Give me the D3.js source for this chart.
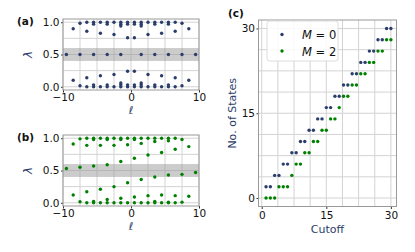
<!DOCTYPE html>
<html>
<head>
<meta charset="utf-8">
<script src="https://cdn.jsdelivr.net/npm/d3@7"></script>
<style>
  body { margin: 0; background: #fff; }
  svg { display: block; font-family: "DejaVu Sans", sans-serif; }
</style>
</head>
<body>
<div id="chart"></div>
<script>
// angular momentum sectors
var ell = [-9.5, -8.5, -7.5, -6.5, -5.5, -4.5, -3.5, -2.5, -1.5, -0.5,
           0.5, 1.5, 2.5, 3.5, 4.5, 5.5, 6.5, 7.5, 8.5, 9.5];

// entanglement eigenvalues per sector, M = 0
var lambdaM0 = [
  [0.5],
  [0.90, 0.10],
  [0.985, 0.5, 0.015],
  [1.0, 0.86, 0.14, 0.0],
  [1.0, 0.97, 0.5, 0.03, 0.0],
  [1.0, 0.83, 0.17, 0.0],
  [1.0, 0.97, 0.5, 0.03, 0.0],
  [1.0, 0.81, 0.19, 0.0],
  [1.0, 0.97, 0.94, 0.5, 0.06, 0.03, 0.0],
  [1.0, 0.97, 0.76, 0.24, 0.03, 0.0],
  [1.0, 0.97, 0.76, 0.24, 0.03, 0.0],
  [1.0, 0.97, 0.94, 0.5, 0.06, 0.03, 0.0],
  [1.0, 0.81, 0.19, 0.0],
  [1.0, 0.97, 0.5, 0.03, 0.0],
  [1.0, 0.83, 0.17, 0.0],
  [1.0, 0.97, 0.5, 0.03, 0.0],
  [1.0, 0.86, 0.14, 0.0],
  [0.985, 0.5, 0.015],
  [0.90, 0.10],
  [0.5]
];

// M = 2
var lambdaM2 = [
  [0.53],
  [0.91, 0.12],
  [0.99, 0.55, 0.015],
  [1.0, 0.89, 0.17, 0.0],
  [1.0, 0.98, 0.57, 0.02, 0.0],
  [1.0, 0.89, 0.21, 0.0],
  [1.0, 0.98, 0.59, 0.05, 0.0],
  [1.0, 0.89, 0.25, 0.0],
  [1.0, 0.98, 0.64, 0.07, 0.0],
  [1.0, 0.90, 0.31, 0.0],
  [1.0, 0.98, 0.69, 0.09, 0.0],
  [1.0, 0.92, 0.36, 0.0],
  [1.0, 0.74, 0.11, 0.0],
  [1.0, 0.95, 0.40, 0.02, 0.0],
  [1.0, 0.78, 0.12, 0.0],
  [1.0, 0.96, 0.43, 0.01, 0.0],
  [1.0, 0.83, 0.11, 0.0],
  [0.98, 0.44, 0.01],
  [0.87, 0.10],
  [0.47]
];

var cutoff = [1, 2, 3, 4, 5, 6, 7, 8, 9, 10, 11, 12, 13, 14, 15,
              16, 17, 18, 19, 20, 21, 22, 23, 24, 25, 26, 27, 28, 29, 30];
var statesM0 = [2, 2, 4, 4, 6, 6, 8, 8, 10, 10, 12, 12, 14, 14, 16,
                16, 18, 18, 20, 20, 22, 22, 24, 24, 26, 26, 28, 28, 30, 30];
var statesM2 = [0, 0, 0, 2, 2, 2, 4, 6, 6, 8, 8, 10, 10, 12, 12,
                14, 14, 16, 18, 18, 20, 20, 22, 22, 24, 24, 26, 26, 28, 28];

var ellTicks = [-10, 0, 10];
var ellGrid = [-10, -7.5, -5, -2.5, 0, 2.5, 5, 7.5, 10];
var lamTicks = [0, 0.5, 1];
var lamGrid = [0, 0.25, 0.5, 0.75, 1];
var cutTicks = [0, 15, 30];
var cutGrid = [0, 3.75, 7.5, 11.25, 15, 18.75, 22.5, 26.25, 30];

var navy = "#2b3d6b", green = "#008000";
var gridColor = "#d3d3d3", frameColor = "#9a9a9a";

var svg = d3.select("#chart").append("svg")
  .attr("width", 415)
  .attr("height", 252);

function grid(x, y, xs, ys) {
  var g = svg.append("g").attr("class", "grid");
  g.selectAll(".gx").data(xs).enter().append("line")
    .attr("x1", function (d) { return x(d); })
    .attr("x2", function (d) { return x(d); })
    .attr("y1", y.range()[0]).attr("y2", y.range()[1])
    .attr("stroke", gridColor).attr("stroke-width", 1);
  g.selectAll(".gy").data(ys).enter().append("line")
    .attr("y1", function (d) { return y(d); })
    .attr("y2", function (d) { return y(d); })
    .attr("x1", x.range()[0]).attr("x2", x.range()[1])
    .attr("stroke", gridColor).attr("stroke-width", 1);
}

function axes(x, y, xt, yt, fmtX, fmtY, xPad, yPad) {
  var bottom = y.range()[0], left = x.range()[0];
  var ax = svg.append("g").attr("transform", "translate(0," + bottom + ")")
    .call(d3.axisBottom(x).tickValues(xt).tickSize(2.5).tickPadding(xPad).tickFormat(fmtX));
  var ay = svg.append("g").attr("transform", "translate(" + left + ",0)")
    .call(d3.axisLeft(y).tickValues(yt).tickSize(2).tickPadding(yPad).tickFormat(fmtY));
  [ax, ay].forEach(function (a) {
    a.select(".domain").remove();
    a.selectAll("line").attr("stroke", "#333");
    a.selectAll("text").attr("font-size", "10.5px").attr("fill", "#111")
      .attr("font-family", "DejaVu Sans, sans-serif");
  });
  svg.append("rect")
    .attr("x", x.range()[0]).attr("y", y.range()[1])
    .attr("width", x.range()[1] - x.range()[0])
    .attr("height", y.range()[0] - y.range()[1])
    .attr("fill", "none").attr("stroke", frameColor).attr("stroke-width", 1);
}

function minusFmt(d) { return d3.format("")(d).replace("-", "\u2212"); }

function spectrumPanel(top, bottom, values, color, tag) {
  var x = d3.scaleLinear().domain([-10, 10]).range([63, 199]);
  var y = d3.scaleLinear().domain([-0.05, 1.05]).range([bottom, top]);

  grid(x, y, ellGrid, lamGrid);

  svg.append("rect")
    .attr("x", x(-10)).attr("width", x(10) - x(-10))
    .attr("y", y(0.6)).attr("height", y(0.4) - y(0.6))
    .attr("fill", "#9a9a9a").attr("opacity", 0.5);

  var pts = [];
  values.forEach(function (col, i) {
    col.forEach(function (v) { pts.push({ l: ell[i], v: v }); });
  });

  svg.append("g").selectAll("circle").data(pts).enter().append("circle")
    .attr("cx", function (d) { return x(d.l); })
    .attr("cy", function (d) { return y(d.v); })
    .attr("r", 1.7)
    .attr("fill", color);

  axes(x, y, ellTicks, lamTicks, minusFmt, d3.format(".1f"), 1.5, 1.5);

  svg.append("text")
    .attr("transform", "translate(32," + ((top + bottom) / 2) + ") rotate(-90)")
    .attr("text-anchor", "middle")
    .attr("font-size", "12px").attr("font-style", "italic")
    .attr("fill", navy).text("\u03bb");

  svg.append("text")
    .attr("x", (x(-10) + x(10)) / 2).attr("y", bottom + 23.5)
    .attr("text-anchor", "middle")
    .attr("font-size", "11px").attr("font-style", "italic")
    .attr("fill", navy).text("\u2113");

  svg.append("text")
    .attr("x", 17).attr("y", top + 6)
    .attr("font-size", "10.5px").attr("font-weight", "bold")
    .attr("fill", "#111").text(tag);
}

spectrumPanel(19, 90, lambdaM0, navy, "(a)");
spectrumPanel(135, 206, lambdaM2, green, "(b)");

// panel (c)
var xc = d3.scaleLinear().domain([-0.75, 31.3]).range([258.5, 396.5]);
var yc = d3.scaleLinear().domain([-1.5, 31.5]).range([206.5, 20]);

grid(xc, yc, cutGrid, cutGrid);

svg.append("g").selectAll("circle").data(cutoff).enter().append("circle")
  .attr("cx", function (d) { return xc(d); })
  .attr("cy", function (d, i) { return yc(statesM0[i]); })
  .attr("r", 1.7).attr("fill", navy);

svg.append("g").selectAll("circle").data(cutoff).enter().append("circle")
  .attr("cx", function (d) { return xc(d); })
  .attr("cy", function (d, i) { return yc(statesM2[i]); })
  .attr("r", 1.7).attr("fill", green);

axes(xc, yc, cutTicks, cutTicks, d3.format("d"), d3.format("d"), 3, 1.5);

svg.append("text")
  .attr("transform", "translate(236," + ((20 + 206.5) / 2) + ") rotate(-90)")
  .attr("text-anchor", "middle")
  .attr("font-size", "11px").attr("fill", navy).text("No. of States");

svg.append("text")
  .attr("x", (258.5 + 396.5) / 2).attr("y", 233)
  .attr("text-anchor", "middle")
  .attr("font-size", "11px").attr("fill", navy).text("Cutoff");

svg.append("text")
  .attr("x", 228).attr("y", 17)
  .attr("font-size", "10.5px").attr("font-weight", "bold")
  .attr("fill", "#111").text("(c)");

// legend
var legend = [{ m: "0", c: navy }, { m: "2", c: green }];
svg.append("rect")
  .attr("x", 267).attr("y", 21).attr("width", 71).attr("height", 40)
  .attr("rx", 2.5)
  .attr("fill", "#fff").attr("fill-opacity", 0.85)
  .attr("stroke", "#dcdcdc").attr("stroke-width", 1);

var le = svg.append("g").selectAll("g").data(legend).enter().append("g")
  .attr("transform", function (d, i) { return "translate(0," + (34.5 + i * 16.5) + ")"; });
le.append("circle").attr("cx", 282).attr("cy", 0).attr("r", 1.7)
  .attr("fill", function (d) { return d.c; });
var lt = le.append("text").attr("x", 302).attr("y", 4.5)
  .attr("font-size", "11.5px").attr("fill", "#111");
lt.append("tspan").attr("font-style", "italic").text("M");
lt.append("tspan").text(function (d) { return " = " + d.m; });
</script>
</body>
</html>
